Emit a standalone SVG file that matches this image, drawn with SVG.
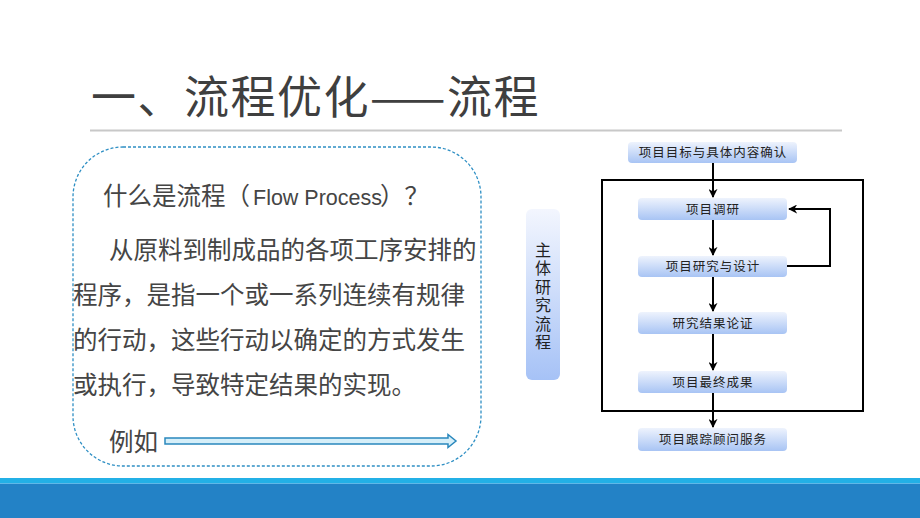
<svg xmlns="http://www.w3.org/2000/svg" width="920" height="518" viewBox="0 0 920 518">
  <defs>
    <linearGradient id="boxGrad" x1="0" y1="0" x2="0" y2="1">
      <stop offset="0" stop-color="#eef3fd"/>
      <stop offset="1" stop-color="#a8c4f4"/>
    </linearGradient>
    <linearGradient id="sideGrad" x1="0" y1="0" x2="0" y2="1">
      <stop offset="0" stop-color="#f3f6fe"/>
      <stop offset="1" stop-color="#a6c2f6"/>
    </linearGradient>
    <marker id="arrow" viewBox="0 0 10 10" refX="9" refY="5" markerWidth="9" markerHeight="9" markerUnits="userSpaceOnUse" orient="auto">
      <path d="M0,0 L10,5 L0,10 L3,5 z" fill="#000"/>
    </marker>
    <style>
      .title { font-family: "Noto Sans CJK SC", "Noto Sans", sans-serif; font-size: 45px; fill: #3f3f3f; letter-spacing: 1.5px; }
      .body { font-family: "Noto Sans CJK SC", "Noto Sans", sans-serif; font-size: 24.5px; fill: #454545; }
      .box { fill: url(#boxGrad); }
      .boxText { font-family: "Noto Sans CJK SC", sans-serif; font-size: 12.5px; fill: #222; text-anchor: middle; letter-spacing: 1px; }
      .conn { stroke: #000; stroke-width: 2; fill: none; }
    </style>
  </defs>

  <rect x="0" y="0" width="920" height="518" fill="#ffffff"/>

  <!-- Title -->
  <g id="title">
    <text class="title" x="91" y="114">一、流程优化——流程</text>
    <line x1="90" y1="130.5" x2="842" y2="130.5" stroke="#c8c8c8" stroke-width="2"/>
  </g>

  <!-- Left dashed panel -->
  <g id="definition-panel">
    <rect x="73" y="147" width="408" height="319" rx="50" ry="50" fill="none" stroke="#2e8fc4" stroke-width="1.3" stroke-dasharray="3 2"/>
    <text class="body" x="103" y="205">什么是流程（<tspan x="253" font-family="Liberation Sans, sans-serif" font-size="21.5">Flow Process</tspan><tspan x="380">）？</tspan></text>
    <text class="body" x="109" y="259">从原料到制成品的各项工序安排的</text>
    <text class="body" x="73" y="304">程序，是指一个或一系列连续有规律</text>
    <text class="body" x="73" y="349">的行动，这些行动以确定的方式发生</text>
    <text class="body" x="73" y="394">或执行，导致特定结果的实现。</text>
    <text class="body" x="109" y="451">例如</text>
    <path d="M165,438 L448,438 L448,434.5 L456,441 L448,447.5 L448,444 L165,444 Z" fill="#d6eff9" stroke="#2a88bd" stroke-width="1.5" stroke-linejoin="miter"/>
  </g>

  <!-- Side label -->
  <g id="side-label">
    <rect x="526" y="209" width="34" height="171" rx="6" ry="6" fill="url(#sideGrad)"/>
    <text x="543" y="242" font-family="Noto Sans CJK SC, sans-serif" font-size="16" fill="#222" style="writing-mode: vertical-rl; letter-spacing: 2.4px;">主体研究流程</text>
  </g>

  <!-- Frame -->
  <g id="frame">
    <rect x="602" y="180" width="261" height="231" fill="none" stroke="#000" stroke-width="2"/>
  </g>

  <!-- Connectors -->
  <g id="connectors">
    <line class="conn" x1="713" y1="163" x2="713" y2="197" marker-end="url(#arrow)"/>
    <line class="conn" x1="713" y1="220" x2="713" y2="255" marker-end="url(#arrow)"/>
    <line class="conn" x1="713" y1="277" x2="713" y2="311" marker-end="url(#arrow)"/>
    <line class="conn" x1="713" y1="334" x2="713" y2="370" marker-end="url(#arrow)"/>
    <line class="conn" x1="713" y1="393" x2="713" y2="427" marker-end="url(#arrow)"/>
    <polyline class="conn" points="787,266 830,266 830,209 789,209" marker-end="url(#arrow)"/>
  </g>

  <!-- Nodes -->
  <g id="node-goal">
    <rect class="box" x="628" y="142" width="169" height="21" rx="4"/>
    <text class="boxText" x="713" y="157">项目目标与具体内容确认</text>
  </g>
  <g id="node-research">
    <rect class="box" x="638" y="198" width="149" height="22" rx="4"/>
    <text class="boxText" x="713" y="213.5">项目调研</text>
  </g>
  <g id="node-design">
    <rect class="box" x="638" y="256" width="149" height="21" rx="4"/>
    <text class="boxText" x="713" y="271">项目研究与设计</text>
  </g>
  <g id="node-verify">
    <rect class="box" x="638" y="312" width="149" height="22" rx="4"/>
    <text class="boxText" x="713" y="327.5">研究结果论证</text>
  </g>
  <g id="node-result">
    <rect class="box" x="638" y="371" width="149" height="22" rx="4"/>
    <text class="boxText" x="713" y="386.5">项目最终成果</text>
  </g>
  <g id="node-service">
    <rect class="box" x="638" y="428" width="149" height="23" rx="4"/>
    <text class="boxText" x="713" y="444">项目跟踪顾问服务</text>
  </g>

  <!-- Bottom band -->
  <g id="footer">
    <rect x="0" y="478" width="920" height="5" fill="#23b0e6"/>
    <rect x="0" y="483" width="920" height="35" fill="#2382c6"/>
    <line x1="0" y1="483.5" x2="920" y2="483.5" stroke="#5fb8e8" stroke-width="1"/>
  </g>
</svg>
